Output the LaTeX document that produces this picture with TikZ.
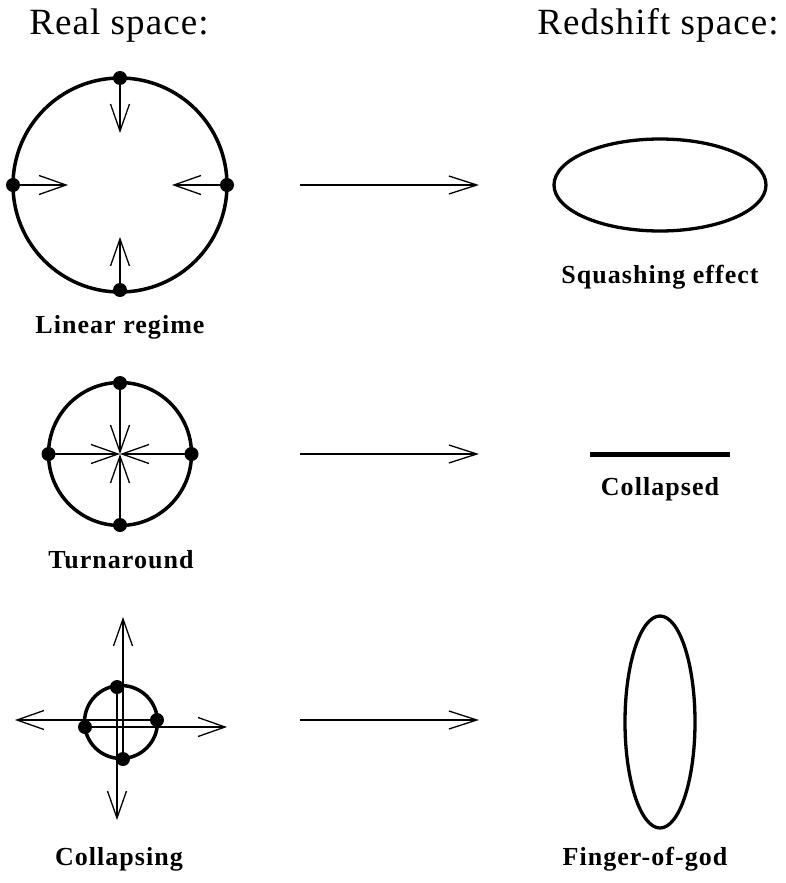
\documentclass[tikz,border=0pt]{standalone}
\usepackage{fontspec}
\setmainfont{Liberation Serif}
\newfontfamily\lblfont[LetterSpace=4]{Liberation Serif}
\newfontfamily\ttlfont[LetterSpace=3]{Liberation Serif}
\usetikzlibrary{arrows.meta}
\begin{document}
\begin{tikzpicture}[x=1pt,y=-1pt,
  ring/.style={line width=3.5pt},
  arr/.style={line width=1.3pt,-{Straight Barb[length=27pt,width=19pt,line width=1.3pt]}},
  bigarr/.style={line width=1.3pt,-{Straight Barb[length=28pt,width=18pt,line width=1.3pt]}},
  dotp/.style={circle,fill=black,inner sep=0pt,minimum size=14pt},
  title/.style={anchor=base,inner sep=0pt,font=\ttlfont\fontsize{37}{40}\selectfont},
  lbl/.style={anchor=base,inner sep=0pt,font=\lblfont\bfseries\fontsize{26}{30}\selectfont}]
\useasboundingbox (0,0) rectangle (786,883);
% titles
\node[title] (t1) at (119,35) {Real space:};
\node[title] (t2) at (658,35) {Redshift space:};
% ---- row 1: linear regime
\draw[ring] (120,185) circle (107);
\node[dotp] (a1) at (120,78) {};
\node[dotp] (a2) at (120,290) {};
\node[dotp] (a3) at (13,185) {};
\node[dotp] (a4) at (227,185) {};
\coordinate (ta1) at (120,133);
\coordinate (ta2) at (120,237);
\coordinate (ta3) at (68,185);
\coordinate (ta4) at (172,185);
\draw[arr] (a1.center) -- (ta1);
\draw[arr] (a2.center) -- (ta2);
\draw[arr] (a3.center) -- (ta3);
\draw[arr] (a4.center) -- (ta4);
\node[lbl] (l1) at (120,333) {Linear regime};
\coordinate (s1) at (300,185);
\coordinate (e1) at (479,185);
\draw[bigarr] (s1) -- (e1);
\draw[line width=3.3pt] (660,185) ellipse (106 and 46);
\node[lbl] (r1) at (660,283) {Squashing effect};
% ---- row 2: turnaround
\draw[ring] (120,454) circle (71.5);
\node[dotp] (b1) at (120,383) {};
\node[dotp] (b2) at (120,525) {};
\node[dotp] (b3) at (48.5,454) {};
\node[dotp] (b4) at (191.5,454) {};
\coordinate (bc) at (120,454);
\draw[arr] (b1.center) -- (bc);
\draw[arr] (b2.center) -- (bc);
\draw[arr] (b3.center) -- (bc);
\draw[arr] (b4.center) -- (bc);
\node[lbl] (l2) at (121,568) {Turnaround};
\coordinate (s2) at (300,454);
\coordinate (e2) at (479,454);
\draw[bigarr] (s2) -- (e2);
\coordinate (c1) at (590,454);
\coordinate (c2) at (730,454);
\draw[line width=5pt] (c1) -- (c2);
\node[lbl] (r2) at (660,495) {Collapsed};
% ---- row 3: collapsing
\draw[ring] (121,722) circle (36.5);
\node[dotp] (d1) at (117,687) {};
\node[dotp] (d2) at (123,759) {};
\node[dotp] (d3) at (85,727) {};
\node[dotp] (d4) at (157,720) {};
\coordinate (td1) at (117,820);
\coordinate (td2) at (123,617);
\coordinate (td3) at (227,727);
\coordinate (td4) at (15,720);
\draw[arr] (d1.center) -- (td1);
\draw[arr,line width=1.6pt] (d2.center) -- (td2);
\draw[arr] (d3.center) -- (td3);
\draw[arr] (d4.center) -- (td4);
\node[lbl] (l3) at (119,865) {Collapsing};
\coordinate (s3) at (300,720);
\coordinate (e3) at (479,720);
\draw[bigarr] (s3) -- (e3);
\draw[line width=3.3pt] (660,722) ellipse (35 and 106);
\node[lbl] (r3) at (645,865) {Finger-of-god};
\end{tikzpicture}
\end{document}
